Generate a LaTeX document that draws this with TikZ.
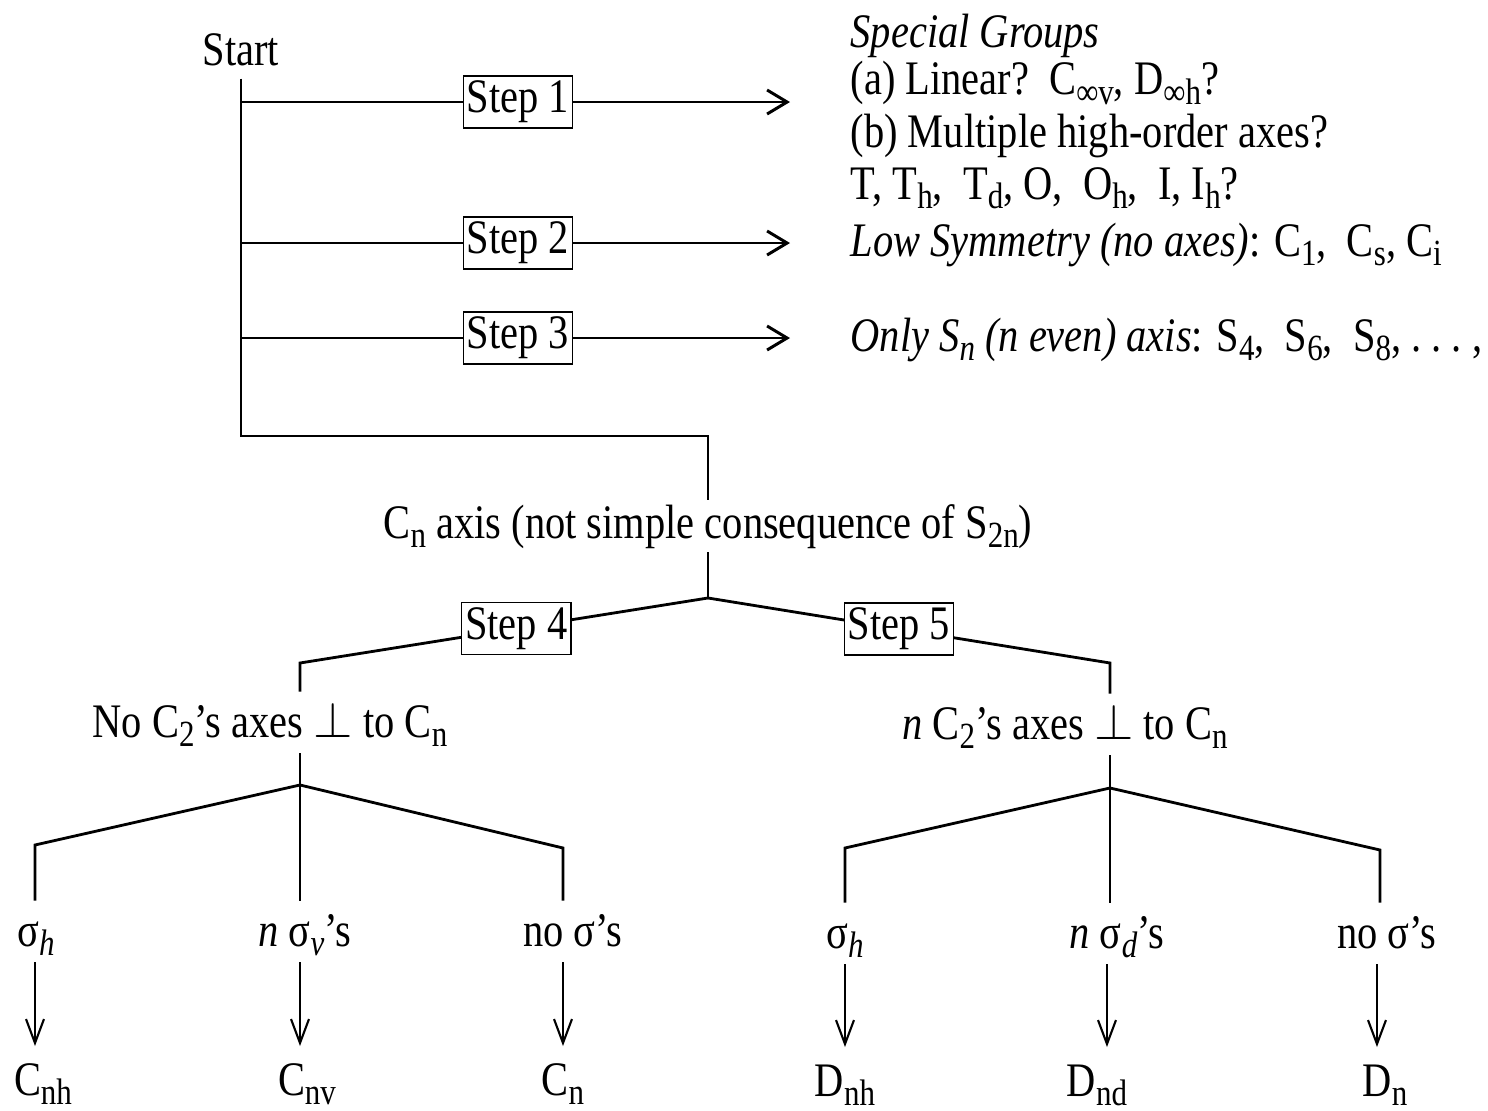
\documentclass[tikz,border=0pt]{standalone}
\usepackage{fontspec}
\setmainfont{Liberation Serif}[FakeStretch=0.84]
\usetikzlibrary{positioning, arrows.meta, calc}
\newcommand{\gsub}[1]{\raisebox{-0.42ex}[0pt][0pt]{\fontsize{10.5}{10.5}\selectfont #1}}

\begin{document}
\begin{tikzpicture}[
    font=\fontsize{13.7}{13.6}\selectfont,
    line/.style={line width=0.8pt},
    stepbox/.style={draw, thin, fill=white, inner sep=1pt, minimum width=1.05cm, minimum height=0.52cm},
    flow/.style={line width=0.85pt, -{Straight Barb[length=2mm, width=2.4mm]}, shorten >=0.6cm},
    down/.style={line width=0.6pt, -{Straight Barb[length=2.4mm, width=1.8mm]}, shorten >=1pt},
    tlabel/.style={anchor=base, text height=0.33cm, text depth=0.04cm}
  ]
    \useasboundingbox (0,0) rectangle (14.88,-11.11);

    % top part: special groups
    \node (start) at (2.41,-0.50) {Start};
    \node[stepbox] (s1) at (5.18,-1.02) {Step 1};
    \node[stepbox] (s2) at (5.18,-2.43) {Step 2};
    \node[stepbox] (s3) at (5.18,-3.38) {Step 3};

    \node[anchor=north west, align=left, inner sep=0pt] (special) at (8.50,-0.13)
      {\textit{Special Groups}\\(a) Linear?\ \ C\gsub{∞v}, D\gsub{∞h}?\\[1.5pt](b) Multiple high-order axes?\\[1pt]T, T\gsub{h},\ \ T\gsub{d}, O,\ \ O\gsub{h},\ \ I, I\gsub{h}?};
    \node[anchor=west, inner sep=0pt] (low) at (8.50,-2.45) {\textit{Low Symmetry (no axes)}: C\gsub{1},\ \ C\gsub{s}, C\gsub{i}};
    \node[anchor=west, inner sep=0pt] (only) at (8.50,-3.40) {\textit{Only S\gsub{n} (n even) axis}: S\gsub{4},\ \ S\gsub{6},\ \ S\gsub{8}, .\ .\ .\ ,};

    \foreach \s in {s1,s2,s3} {
      \draw[line] (start.south |- \s) -- (\s);
      \draw[flow] (\s) -- (\s -| special.west);
    }

    \node[anchor=base, inner ysep=1pt] (cnaxis) at (7.08,-5.38) {C\gsub{n} axis (not simple consequence of S\gsub{2n})};
    \coordinate (elbow) at (7.08,-4.36);
    \draw[line] (start.south) |- (elbow) -- (cnaxis.north);

    % steps 4 and 5
    \node[tlabel] (noc) at (2.70,-7.37) {No C\gsub{2}’s axes $\perp$ to C\gsub{n}};
    \node[tlabel] (nc) at (10.65,-7.39) {\textit{n} C\gsub{2}’s axes $\perp$ to C\gsub{n}};
    \coordinate (jA) at (7.08,-5.98);
    \coordinate (c4) at (3.00,-6.63);
    \coordinate (c5) at (11.10,-6.63);
    \draw[line] (cnaxis.south) -- (jA);
    \draw[line] (jA) -- node[stepbox, pos=0.47] (s4) {Step 4} (c4) -- (c4 |- noc.north);
    \draw[line] (jA) -- node[stepbox, pos=0.475] (s5) {Step 5} (c5) -- (c5 |- nc.north);

    % C groups
    \node[tlabel] (sh1) at (0.36,-9.46) {σ\gsub{\textit{h}}};
    \node[tlabel] (nsv) at (3.05,-9.46) {\textit{n} σ\gsub{\textit{v}}’s};
    \node[tlabel] (nos1) at (5.73,-9.46) {no σ’s};
    \node[tlabel] (cnh) at (0.43,-10.95) {C\gsub{nh}};
    \node[tlabel] (cnv) at (3.07,-10.95) {C\gsub{nv}};
    \node[tlabel] (cn) at (5.63,-10.95) {C\gsub{n}};
    \coordinate (jB) at (3.00,-7.85);
    \coordinate (l1) at (0.35,-8.45);
    \coordinate (l3) at (5.63,-8.48);
    \draw[line] (jB |- noc.south) -- (jB |- nsv.north);
    \draw[line] (jB) -- (l1) -- (l1 |- sh1.north);
    \draw[line] (jB) -- (l3) -- (l3 |- nos1.north);
    \draw[down] (l1 |- sh1.south) -- (l1 |- cnh.north);
    \draw[down] (jB |- nsv.south) -- (jB |- cnv.north);
    \draw[down] (l3 |- nos1.south) -- (l3 |- cn.north);

    % D groups
    \node[tlabel] (sh2) at (8.45,-9.48) {σ\gsub{\textit{h}}};
    \node[tlabel] (nsd) at (11.17,-9.48) {\textit{n} σ\gsub{\textit{d}}’s};
    \node[tlabel] (nos2) at (13.87,-9.48) {no σ’s};
    \node[tlabel] (dnh) at (8.45,-10.96) {D\gsub{nh}};
    \node[tlabel] (dnd) at (10.97,-10.96) {D\gsub{nd}};
    \node[tlabel] (dn) at (13.85,-10.96) {D\gsub{n}};
    \coordinate (jC) at (11.10,-7.88);
    \coordinate (r1) at (8.45,-8.48);
    \coordinate (r3) at (13.80,-8.50);
    \draw[line] (jC |- nc.south) -- (jC |- nsd.north);
    \draw[line] (jC) -- (r1) -- (r1 |- sh2.north);
    \draw[line] (jC) -- (r3) -- (r3 |- nos2.north);
    \draw[down] (r1 |- sh2.south) -- (r1 |- dnh.north);
    \draw[down] (11.07,0 |- nsd.south) -- (11.07,0 |- dnd.north);
    \draw[down] (13.77,0 |- nos2.south) -- (13.77,0 |- dn.north);
  \end{tikzpicture}
\end{document}
